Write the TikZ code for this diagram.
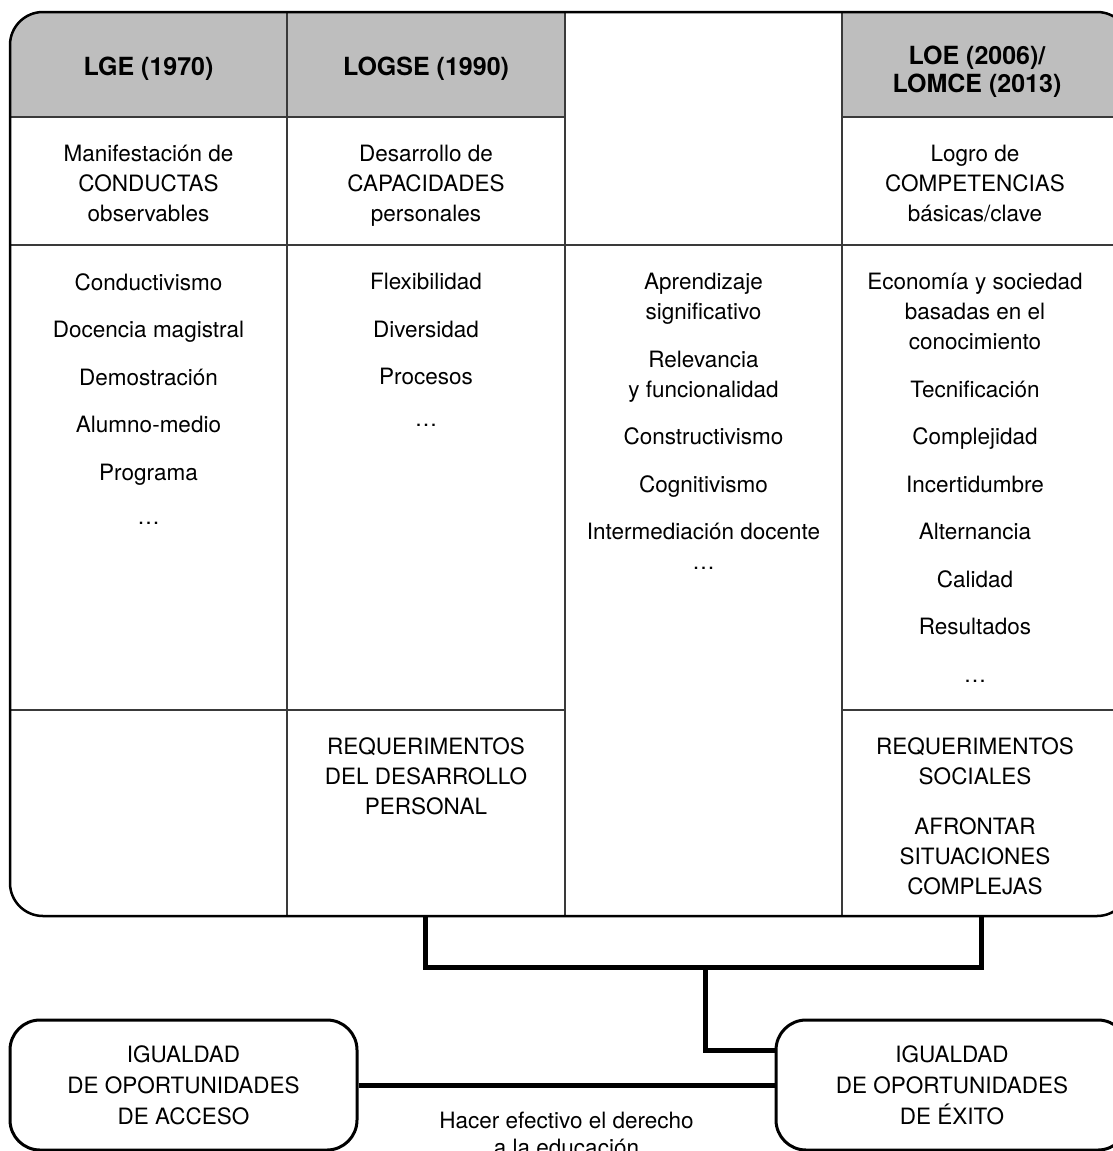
\documentclass[tikz,border=0pt]{standalone}
\usepackage{fontspec}
\setmainfont{TeX Gyre Heros}
\usetikzlibrary{positioning}
\definecolor{headgray}{HTML}{BEBEBE}
\definecolor{rulegray}{HTML}{3A3A3A}
\tikzset{
  txt/.style={align=center, inner sep=0pt, font=\fontsize{22.5}{30}\selectfont},
  head/.style={align=center, inner sep=0pt, font=\fontsize{25}{28}\selectfont\bfseries},
  rule/.style={rulegray, line width=1.5pt},
  box/.style={draw, line width=3pt, rounded corners=30pt, minimum height=130pt,
    align=center, font=\fontsize{22.5}{31}\selectfont},
  link/.style={line width=5pt},
}
\begin{document}
\begin{tikzpicture}[x=1pt, y=-1pt]
    \useasboundingbox (0,0) rectangle (1112,1151);
    % gray headers, cut to the frame
    \begin{scope}
        \clip[rounded corners=33pt] (10,12) rectangle (1130,916);
        \fill[headgray] (10,12) rectangle (565,117);
        \fill[headgray] (842,12) rectangle (1130,117);
    \end{scope}
    % table rules
    \draw[rule] (287,12) -- (287,916) (565,12) -- (565,916) (842,12) -- (842,916);
    \draw[rule] (10,117) -- (565,117) (842,117) -- (1130,117);
    \draw[rule] (10,245) -- (1130,245);
    \draw[rule] (10,710) -- (565,710) (842,710) -- (1130,710);
    \draw[line width=2.5pt, rounded corners=33pt] (10,12) rectangle (1130,916);

    % headers
    \node[head, anchor=base] (lge) at (148.5,75) {LGE (1970)};
    \node[head, anchor=base] (logse) at (426,75) {LOGSE (1990)};
    \node[head, anchor=north] (loe) at (977,45.5) {LOE (2006)/\\LOMCE (2013)};

    % what is pursued
    \node[txt, anchor=north] (conductas) at (148.5,145) {Manifestación de\\CONDUCTAS\\observables};
    \node[txt, anchor=north] (capacidades) at (426,145) {Desarrollo de\\CAPACIDADES\\personales};
    \node[txt, anchor=north] (competencias) at (975,145) {Logro de\\COMPETENCIAS\\básicas/clave};

    % features
    \node[txt, anchor=north] (rasgoslge) at (148.5,273) {Conductivismo\\[17.5pt]Docencia magistral\\[17.5pt]Demostración\\[17.5pt]Alumno-medio\\[17.5pt]Programa\\[14pt]\dots};
    \node[txt, anchor=north] (rasgoslogse) at (426,273) {Flexibilidad\\[17.5pt]Diversidad\\[17.5pt]Procesos\\[12pt]\dots};
    \node[txt, anchor=north] (rasgoscomun) at (703.5,273) {Aprendizaje\\significativo\\[17.5pt]Relevancia\\y funcionalidad\\[17.5pt]Constructivismo\\[17.5pt]Cognitivismo\\[17.5pt]Intermediación docente\\\dots};
    \node[txt, anchor=north] (rasgosloe) at (975,273) {Economía y sociedad\\basadas en el\\conocimiento\\[17.5pt]Tecnificación\\[17.5pt]Complejidad\\[17.5pt]Incertidumbre\\[17.5pt]Alternancia\\[17.5pt]Calidad\\[17.5pt]Resultados\\[17.5pt]\dots};

    % requirements
    \node[txt, anchor=north] (reqlogse) at (426,737) {REQUERIMENTOS\\DEL DESARROLLO\\PERSONAL};
    \node[txt, anchor=north] (reqloe) at (975,737) {REQUERIMENTOS\\SOCIALES\\[20pt]AFRONTAR\\SITUACIONES\\COMPLEJAS};

    % equality boxes
    \node[box, minimum width=347pt] (acceso) at (183.5,1085) {IGUALDAD\\DE OPORTUNIDADES\\DE ACCESO};
    \node[box, minimum width=352pt] (exito) at (952,1085) {IGUALDAD\\DE OPORTUNIDADES\\DE ÉXITO};
    \draw[link] (acceso) -- node[txt, anchor=north, yshift=-25pt, font=\fontsize{22.5}{27}\selectfont] (derecho) {Hacer efectivo el derecho\\a la educación} (exito);

    % bracket from the table
    \coordinate (pielogse) at (425,916);
    \coordinate (pieloe) at (981,916);
    \coordinate (union) at (705,967);
    \draw[link] (pielogse) |- (union) -| (pieloe);
    \draw[link] (union) |- ([yshift=35pt]exito.west);
\end{tikzpicture}
\end{document}
